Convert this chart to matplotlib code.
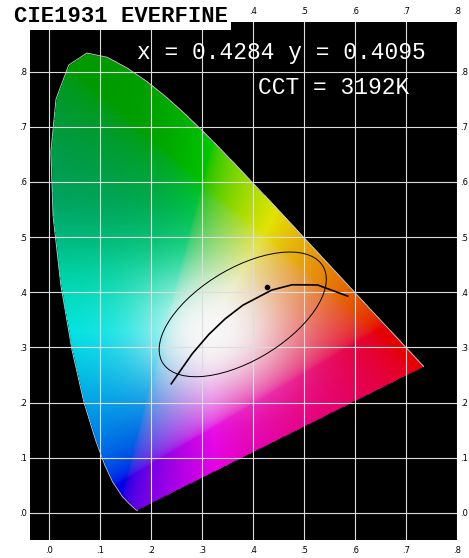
import numpy as np
import matplotlib.pyplot as plt
from matplotlib.path import Path
from matplotlib.patches import Ellipse

# spectral locus (CIE 1931 2 deg)
locus_x = [0.1741, 0.1714, 0.1644, 0.1566, 0.1440, 0.1241, 0.1096, 0.0913, 0.0687, 0.0454,
           0.0235, 0.0082, 0.0039, 0.0139, 0.0389, 0.0743, 0.1142, 0.1547, 0.1929, 0.2296,
           0.2658, 0.3016, 0.3373, 0.3731, 0.4087, 0.4441, 0.4788, 0.5125, 0.5448, 0.5752,
           0.6029, 0.6270, 0.6658, 0.6915, 0.7079, 0.7190, 0.7347]
locus_y = [0.0050, 0.0051, 0.0109, 0.0177, 0.0297, 0.0578, 0.0868, 0.1327, 0.2007, 0.2950,
           0.4127, 0.5384, 0.6548, 0.7502, 0.8120, 0.8338, 0.8262, 0.8059, 0.7816, 0.7543,
           0.7243, 0.6923, 0.6589, 0.6245, 0.5896, 0.5547, 0.5202, 0.4866, 0.4544, 0.4242,
           0.3965, 0.3725, 0.3340, 0.3083, 0.2920, 0.2809, 0.2653]

# planckian locus
planck_x = [0.2399, 0.2807, 0.3135, 0.3451, 0.3805, 0.4369, 0.4770, 0.5267, 0.5857]
planck_y = [0.2342, 0.2883, 0.3236, 0.3516, 0.3768, 0.4041, 0.4137, 0.4133, 0.3931]

meas_x, meas_y, cct = 0.4284, 0.4095, 3192
x_ticks = [0.0, 0.1, 0.2, 0.3, 0.4, 0.5, 0.6, 0.7, 0.8]
y_ticks = [0.0, 0.1, 0.2, 0.3, 0.4, 0.5, 0.6, 0.7, 0.8]

fig = plt.figure(figsize=(4.69, 5.58), dpi=100)
ax = fig.add_axes([30 / 469, 18 / 558, 427 / 469, 518 / 558])
ax.set_facecolor('black')
xmin, xmax = -0.037, 0.80
ymin, ymax = -0.049, 0.89
ax.set_xlim(xmin, xmax)
ax.set_ylim(ymin, ymax)

# colour fill of the horseshoe
gx, gy = np.meshgrid(np.linspace(xmin, xmax, 500), np.linspace(ymin, ymax, 560))
gyc = np.clip(gy, 1e-3, None)
X = gx / gyc
Z = (1 - gx - gy) / gyc
Y = np.ones_like(X)
M = np.array([[3.2406, -1.5372, -0.4986], [-0.9689, 1.8758, 0.0415], [0.0557, -0.2040, 1.0570]])
rgb = np.einsum('ij,jkl->kli', M, np.array([X, Y, Z]))
rgb = np.clip(rgb, 0, None)
rgb = rgb / rgb.max(axis=2, keepdims=True).clip(1e-6)
rgb = np.where(rgb <= 0.0031308, 12.92 * rgb, 1.055 * rgb ** (1 / 2.4) - 0.055)
# soften: darker green top-left, broad white centre
sig = lambda v: 1 / (1 + np.exp(-v))
green_zone = sig((gy - 0.48) / 0.05) * sig((0.3 - gx) / 0.05)
rgb = rgb * (0.9 - 0.3 * green_zone)[..., None]
d = np.hypot((gx - 0.32) / 1.3, gy - 0.33)
w = np.exp(-(d / 0.11) ** 2)
rgb = rgb * (1 - w[..., None]) + 0.97 * w[..., None]
pts = np.column_stack([gx.ravel(), gy.ravel()])
poly = Path(np.column_stack([locus_x + [locus_x[0]], locus_y + [locus_y[0]]]))
inside = poly.contains_points(pts).reshape(gx.shape)
img = np.zeros(gx.shape + (4,))
img[..., :3] = rgb
img[..., 3] = inside
ax.imshow(img, extent=[xmin, xmax, ymin, ymax], origin='lower', aspect='auto', zorder=1)

for t in x_ticks:
    ax.axvline(t, color='#dddddd', lw=0.8, zorder=2)
for t in y_ticks:
    ax.axhline(t, color='#dddddd', lw=0.8, zorder=2)

ax.plot(locus_x, locus_y, color='#cccccc', lw=0.6, zorder=3)
ax.plot(planck_x, planck_y, color='black', lw=1.2, zorder=4)
ax.add_patch(Ellipse((0.38, 0.36), 0.36, 0.17, angle=28, fill=False, color='black', lw=0.7, zorder=4))
ax.plot(meas_x, meas_y, 'o', color='black', ms=3, zorder=5)

labels = ['.%d' % round(t * 10) for t in x_ticks]
ax.set_xticks(x_ticks)
ax.set_yticks(y_ticks)
ax.set_xticklabels(labels, fontsize=6)
ax.set_yticklabels(labels, fontsize=6)
ax.tick_params(top=True, right=True, labeltop=True, labelright=True, length=0, pad=4)
ax.tick_params(axis='y', pad=2)
# top labels hidden where the title box sits
for tick in ax.xaxis.get_major_ticks()[:4]:
    tick.label2.set_visible(False)
for s in ax.spines.values():
    s.set_visible(False)

mono = 'Liberation Mono'
fig.text(14 / 469, 1 - 17 / 558, 'CIE1931 EVERFINE', family=mono, weight='bold', fontsize=16,
         color='black', va='center', bbox=dict(facecolor='white', edgecolor='none', pad=2))
fig.text(137 / 469, 1 - 52 / 558, 'x = %.4f y = %.4f' % (meas_x, meas_y), family=mono,
         fontsize=16.5, color='white', va='center', zorder=6)
fig.text(258 / 469, 1 - 88 / 558, 'CCT = %dK' % cct, family=mono, fontsize=16.5,
         color='white', va='center', zorder=6)

fig.savefig('out.png', dpi=100, facecolor='white')
